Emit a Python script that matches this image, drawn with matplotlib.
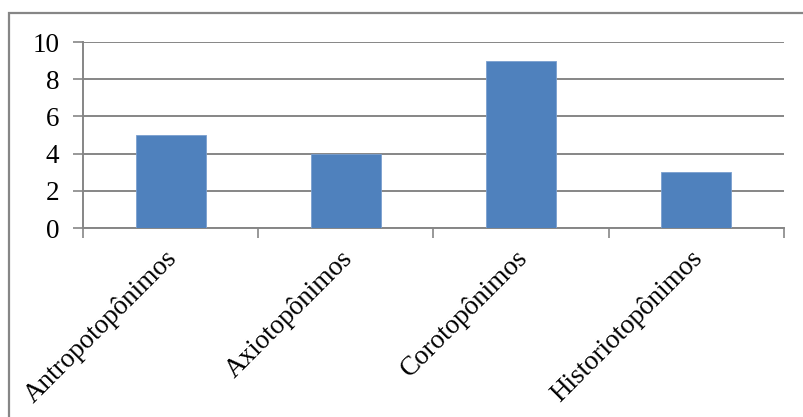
import matplotlib
matplotlib.use("Agg")
import matplotlib.pyplot as plt
from matplotlib.patches import Rectangle

# data
categories = ["Antropotopônimos", "Axiotopônimos", "Corotopônimos", "Historiotopônimos"]
counts = [5, 4, 9, 3]
y_ticks = [0, 2, 4, 6, 8, 10]

plt.rcParams["font.family"] = ["Liberation Serif", "DejaVu Serif"]

fig = plt.figure(figsize=(8.04, 4.17), dpi=100)
ax = fig.add_axes([83 / 804, 1 - 228 / 417, (784 - 83) / 804, (228 - 42) / 417])

grid_col = "#868686"
x = range(len(categories))
ax.bar(x, counts, width=0.4, color="#4F81BD", edgecolor="#7A9FCF", linewidth=0.6, zorder=3)

ax.set_xlim(-0.5, len(categories) - 0.5)
ax.set_ylim(0, 10)
ax.set_yticks(y_ticks)
ax.set_yticklabels([str(v) for v in y_ticks], fontsize=19.5)
ax.yaxis.grid(True, color=grid_col, linewidth=1.4, zorder=0)

# category ticks sit on the boundaries between bars
ax.set_xticks([i - 0.5 for i in range(len(categories) + 1)])
ax.set_xticklabels([])
ax.tick_params(axis="both", direction="out", length=7, width=1.2, color=grid_col)
ax.tick_params(axis="y", pad=10)

for s in ["top", "right"]:
    ax.spines[s].set_visible(False)
for s in ["left", "bottom"]:
    ax.spines[s].set_color(grid_col)
    ax.spines[s].set_linewidth(1.4)

# rotated category names
for i, name in enumerate(categories):
    ax.annotate(name, xy=(i, 0), xycoords="data", xytext=(2, -19), textcoords="offset points",
                rotation=45, ha="right", va="center", rotation_mode="anchor", fontsize=19.5)

# chart area border
fig.patches.append(Rectangle((9 / 804, -0.1), 1.2, 1 - 13 / 417 + 0.1, transform=fig.transFigure,
                             fill=False, edgecolor=grid_col, linewidth=1.6))

fig.savefig("out.png", dpi=100)
